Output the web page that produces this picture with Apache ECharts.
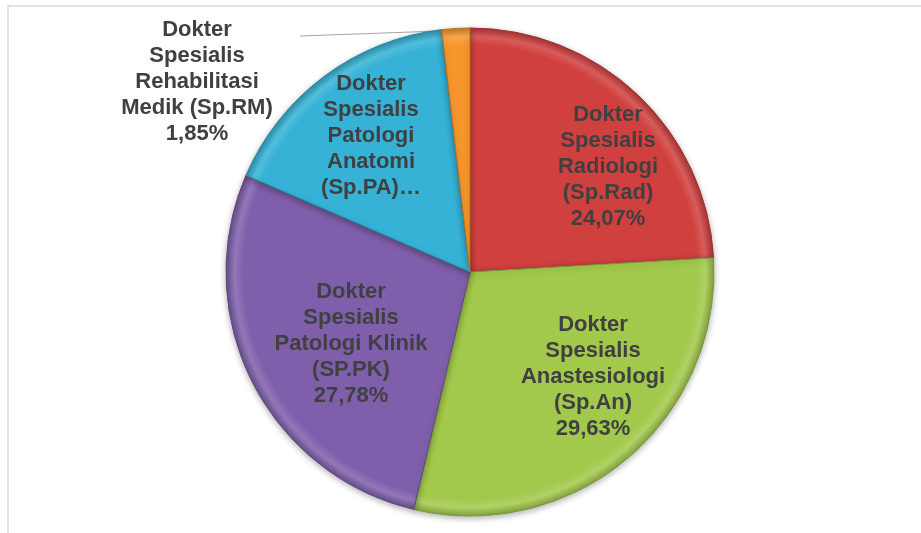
<!DOCTYPE html>
<html>
<head>
<meta charset="utf-8">
<script src="https://cdn.jsdelivr.net/npm/echarts@6/dist/echarts.min.js"></script>
<style>
  html, body { margin: 0; padding: 0; background: #fff; }
  #chart { width: 921px; height: 533px; }
</style>
</head>
<body>
<div id="chart"></div>
<script>
// jumlah dokter per spesialis (persen = n / 54)
const labels = [
  'Dokter\nSpesialis\nRadiologi\n(Sp.Rad)',
  'Dokter\nSpesialis\nAnastesiologi\n(Sp.An)',
  'Dokter\nSpesialis\nPatologi Klinik\n(SP.PK)',
  'Dokter\nSpesialis\nPatologi\nAnatomi\n(Sp.PA)…',
  'Dokter\nSpesialis\nRehabilitasi\nMedik (Sp.RM)'
];
const counts = [13, 16, 15, 9, 1];
const showPct = [true, true, true, false, true];
const colors = ['#d0403f', '#a2c94b', '#7f5fab', '#35b2d6', '#f7962c'];

// tata letak
const cx = 470, cy = 272, R = 244;
// posisi label relatif terhadap pusat pie
const labelOffset = [[138, -105], [123, 105], [-119, 72], [-99, -136], [-273, -190]];

function shade(hex, k) {
  let r = parseInt(hex.slice(1, 3), 16), g = parseInt(hex.slice(3, 5), 16), b = parseInt(hex.slice(5, 7), 16);
  const f = v => Math.max(0, Math.min(255, Math.round(k > 0 ? v + (255 - v) * k : v * (1 + k))));
  return 'rgb(' + f(r) + ',' + f(g) + ',' + f(b) + ')';
}

const total = counts.reduce((a, b) => a + b, 0);
let acc = 0;
const midAngle = counts.map(v => { const m = (acc + v / 2) / total * Math.PI * 2; acc += v; return m; });

let pieData = [];
labels.forEach((name, i) => {
  let item = {
    name: name,
    value: counts[i],
    itemStyle: {
      color: {
        type: 'radial', x: cx, y: cy, r: R, global: true,
        colorStops: [
          { offset: 0, color: colors[i] },
          { offset: 0.93, color: colors[i] },
          { offset: 0.965, color: shade(colors[i], 0.15) },
          { offset: 1, color: shade(colors[i], -0.18) }
        ]
      },
      borderColor: shade(colors[i], -0.25),
      borderWidth: 1
    }
  };
  if (i === 4) {
    item.label = { position: 'outside' };
    item.labelLine = { show: true, length: 5, length2: 5, lineStyle: { color: '#a6a6a6', width: 1 } };
  }
  pieData.push(item);
});

let myChart = echarts.init(document.getElementById('chart'));

let option = {
  animation: false,
  graphic: [{
    type: 'rect',
    shape: { x: 8, y: 6, width: 1000, height: 1000 },
    style: { fill: 'none', stroke: '#d9d9d9', lineWidth: 1.5 },
    silent: true
  }],
  series: [
    {
      type: 'pie',
      center: [cx, cy],
      radius: R,
      startAngle: 90,
      clockwise: true,
      data: pieData,
      itemStyle: {
        shadowBlur: 6,
        shadowColor: 'rgba(0,0,0,0.3)',
        shadowOffsetY: 2
      },
      label: {
        show: true,
        position: 'inside',
        fontFamily: 'Liberation Sans, Arial, sans-serif',
        fontWeight: 'bold',
        fontSize: 22,
        lineHeight: 26,
        color: '#404040',
        align: 'center',
        formatter: p => {
          if (!showPct[p.dataIndex]) return p.name;
          return p.name + '\n' + p.percent.toFixed(2).replace('.', ',') + '%';
        }
      },
      labelLine: { show: false },
      labelLayout: params => {
        const i = params.dataIndex;
        let out = {
          x: cx + labelOffset[i][0],
          y: cy + labelOffset[i][1],
          align: 'center',
          verticalAlign: 'middle'
        };
        if (i === 4) {
          const a = midAngle[i];
          const sx = cx + R * Math.sin(a), sy = cy - R * Math.cos(a) + 2;
          out.labelLinePoints = [[sx, sy], [300, 36], [300, 36]];
        }
        return out;
      }
    }
  ]
};

myChart.setOption(option);
</script>
</body>
</html>
